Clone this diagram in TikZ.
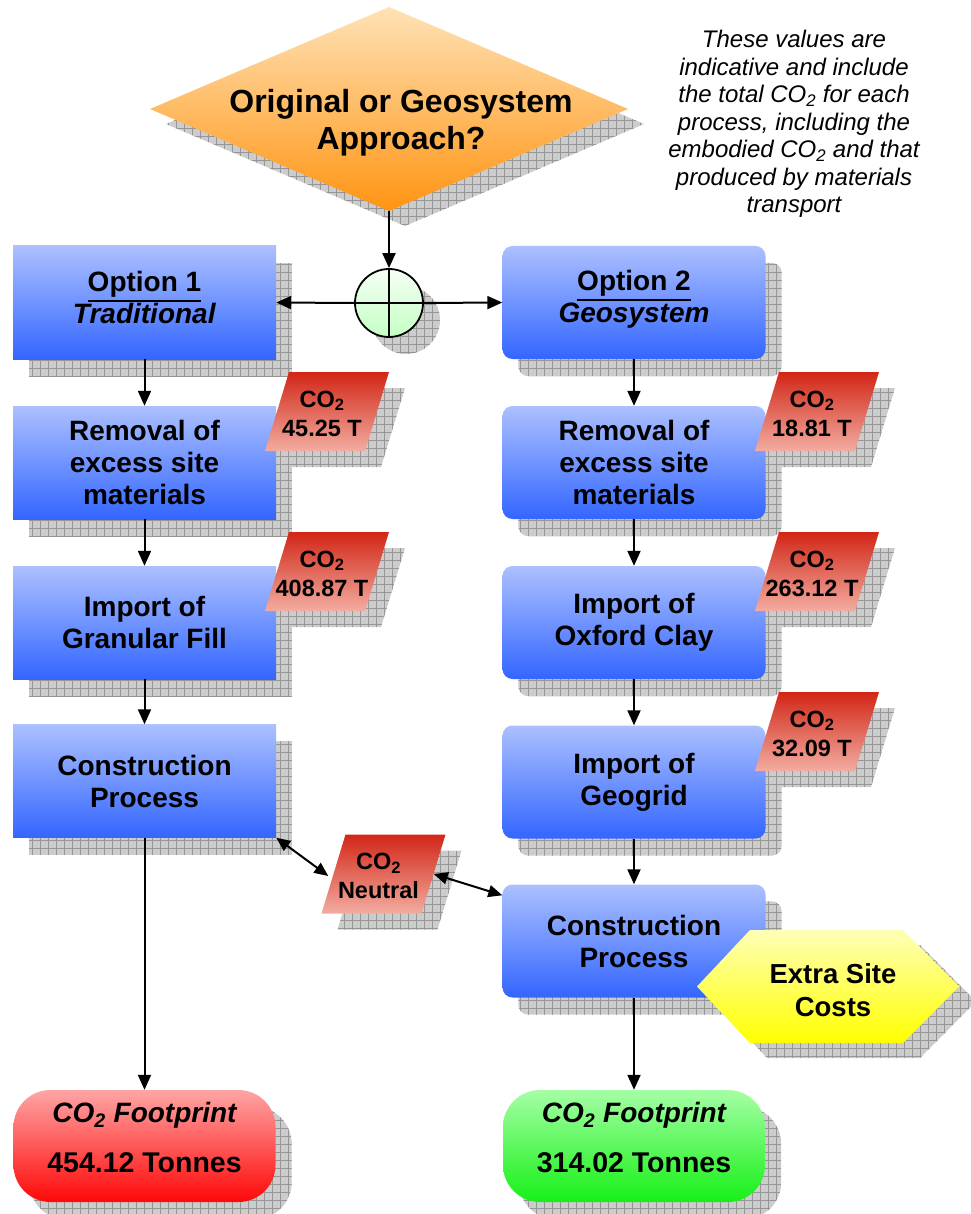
\documentclass[tikz,border=0pt]{standalone}
\usepackage{fontspec}
\setmainfont{Liberation Sans}
\usetikzlibrary{arrows.meta,calc}

\pgfdeclarelayer{shadow}
\pgfsetlayers{shadow,main}

\definecolor{shadowgray}{RGB}{204,204,204}
\definecolor{gridgray}{RGB}{150,150,150}
\definecolor{bluetop}{RGB}{172,192,255}
\definecolor{bluebot}{RGB}{51,102,255}
\definecolor{tagtop}{RGB}{210,38,22}
\definecolor{tagbot}{RGB}{242,172,160}
\definecolor{ortop}{RGB}{255,226,182}
\definecolor{orbot}{RGB}{255,148,18}
\definecolor{hubtop}{RGB}{246,255,246}
\definecolor{hubbot}{RGB}{196,255,196}
\definecolor{redtop}{RGB}{255,165,165}
\definecolor{redbot}{RGB}{255,8,8}
\definecolor{grntop}{RGB}{165,255,165}
\definecolor{grnbot}{RGB}{22,240,22}
\definecolor{yeltop}{RGB}{255,255,182}
\definecolor{yelbot}{RGB}{255,255,0}

% heading with a thick underline
\newcommand\optline[1]{\leavevmode\vtop{\hbox{#1}\kern2.5pt\hrule height 2.4pt}}
% put a drawing on the shadow layer
\newcommand\dropshadow[1]{\begin{pgfonlayer}{shadow}#1\end{pgfonlayer}}

\tikzset{
  x=1pt, y=-1pt,
  shadowfill/.style={fill=shadowgray, path picture={\draw[gridgray, line width=0.7pt, step=8pt] (path picture bounding box.south west) grid (path picture bounding box.north east);}},
  lbox/.style={minimum width=263pt, minimum height=113pt, inner sep=0pt, top color=bluetop, bottom color=bluebot, align=center, font=\fontsize{28}{32}\selectfont\bfseries},
  rbox/.style={lbox, rounded corners=10pt},
  tagtext/.style={minimum width=100pt, minimum height=79pt, inner sep=0pt, align=center, font=\fontsize{23.5}{29}\selectfont\bfseries},
  tagfill/.style={top color=tagtop, bottom color=tagbot},
  foot/.style={minimum width=262pt, minimum height=112pt, inner sep=0pt, rounded corners=37pt, align=center, text depth=17pt, font=\fontsize{28.5}{50}\selectfont\bfseries},
  arr/.style={line width=2pt, -{Triangle[length=15pt,width=13pt]}},
  dbl/.style={line width=2pt, {Triangle[length=14pt,width=12pt]}-{Triangle[length=14pt,width=12pt]}},
}

% shadow behind a box node: node name, corner style
\newcommand\boxshadow[2]{\dropshadow{\path[shadowfill,#2] ($(#1.north west)+(16,17)$) rectangle ($(#1.south east)+(16,17)$);}}

% CO2 tag: name, centre x, centre y, second line
\newcommand\cotag[4]{%
  \dropshadow{\path[shadowfill] (#2-46,#3+55.5) -- (#2+54,#3+55.5) -- (#2+78,#3-23.5) -- (#2-22,#3-23.5) -- cycle;}
  \path[tagfill] (#2-62,#3+39.5) -- (#2+38,#3+39.5) -- (#2+62,#3-39.5) -- (#2-38,#3-39.5) -- cycle;
  \node[tagtext] (#1) at (#2-5,#3+2) {CO\textsubscript{2}\\#4};
}

\begin{document}
\begin{tikzpicture}
\useasboundingbox (0,0) rectangle (970,1214);
\dropshadow{\fill[white] (0,0) rectangle (970,1214);}

% decision diamond
\dropshadow{\path[shadowfill] (166,124) -- (405,22) -- (644,124) -- (405,226) -- cycle;}
\path[top color=ortop, bottom color=orbot] (150,109) -- (389,7) -- (628,109) -- (389,211) -- cycle;
\node[align=center, font=\fontsize{32}{37}\selectfont\bfseries] (q) at (401,123) {Original or Geosystem\\Approach?};
\coordinate (qtip) at (389,211);

% explanatory note
\node[align=center, font=\fontsize{24}{27.5}\selectfont\itshape] (note) at (794,124)
  {These values are\\indicative and include\\the total CO\textsubscript{2} for each\\process, including the\\embodied CO\textsubscript{2} and that\\produced by materials\\transport};

% junction
\node[circle, draw, line width=1.8pt, minimum size=68pt, inner sep=0pt, top color=hubtop, bottom color=hubbot] (hub) at (389,303) {};
\dropshadow{\path[shadowfill] ($(hub.center)+(17,17)$) circle[radius=34pt];}
\draw[line width=1.8pt] (hub.north) -- (hub.south) (hub.west) -- (hub.east);

% option 1 column
\node[lbox, text depth=10pt] (l1) at (144.5,302.5) {\optline{Option 1}\\\textit{Traditional}};
\node[lbox] (l2) at (144.5,462.5) {Removal of\\excess site\\materials};
\node[lbox] (l3) at (144.5,622.5) {Import of\\Granular Fill};
\node[lbox] (l4) at (144.5,781) {Construction\\Process};
\foreach \n in {l1,l2,l3,l4} {\boxshadow{\n}{sharp corners}}

% option 2 column
\node[rbox, text depth=12pt] (r1) at (634,302.5) {\optline{Option 2}\\\textit{Geosystem}};
\node[rbox] (r2) at (634,462.5) {Removal of\\excess site\\materials};
\node[rbox] (r3) at (634,622.5) {Import of\\Oxford Clay};
\node[rbox] (r4) at (634,782) {Import of\\Geogrid};
\node[rbox] (r5) at (634,941) {Construction\\Process};
\foreach \n in {r1,r2,r3,r4,r5} {\boxshadow{\n}{rounded corners=10pt}}

% CO2 tags
\cotag{t1}{327}{411.5}{45.25 T}
\cotag{t2}{327}{571.5}{408.87 T}
\cotag{t3}{817}{411.5}{18.81 T}
\cotag{t4}{817}{571.5}{263.12 T}
\cotag{t5}{817}{731.5}{32.09 T}
\cotag{neutral}{383.5}{874}{Neutral}

% extra costs
\dropshadow{\path[shadowfill] (714,1001.5) -- (767,945) -- (920,945) -- (976,1001.5) -- (920,1058) -- (767,1058) -- cycle;}
\path[top color=yeltop, bottom color=yelbot] (697,986.5) -- (750,930) -- (903,930) -- (959,986.5) -- (903,1043) -- (750,1043) -- cycle;
\node[align=center, font=\fontsize{27.5}{33}\selectfont\bfseries] (extra) at (833,990) {Extra Site\\Costs};

% footprints
\node[foot, top color=redtop, bottom color=redbot] (fp1) at (144.5,1146)
  {{\fontsize{28}{50}\selectfont\itshape CO\textsubscript{2} Footprint}\\454.12 Tonnes};
\node[foot, top color=grntop, bottom color=grnbot] (fp2) at (634,1146)
  {{\fontsize{28}{50}\selectfont\itshape CO\textsubscript{2} Footprint}\\314.02 Tonnes};
\boxshadow{fp1}{rounded corners=37pt}
\boxshadow{fp2}{rounded corners=37pt}

% connectors
\draw[arr] (qtip) -- (hub.north);
\draw[arr] (hub.west) -- (l1.east);
\draw[arr] (hub.east) -- (r1.west);
\draw[arr] (l1.south) -- (l2.north);
\draw[arr] (l2.south) -- (l3.north);
\draw[arr] (l3.south) -- (l4.north);
\draw[arr] (l4.south) -- (fp1.north);
\draw[arr] (r1.south) -- (r2.north);
\draw[arr] (r2.south) -- (r3.north);
\draw[arr] (r3.south) -- (r4.north);
\draw[arr] (r4.south) -- (r5.north);
\draw[arr] (r5.south) -- (fp2.north);
\draw[dbl] (l4.south east) -- (neutral.west);
\draw[dbl] ($(neutral.east)+(5,-2)$) -- ($(r5.north west)+(0,11)$);
\end{tikzpicture}
\end{document}
